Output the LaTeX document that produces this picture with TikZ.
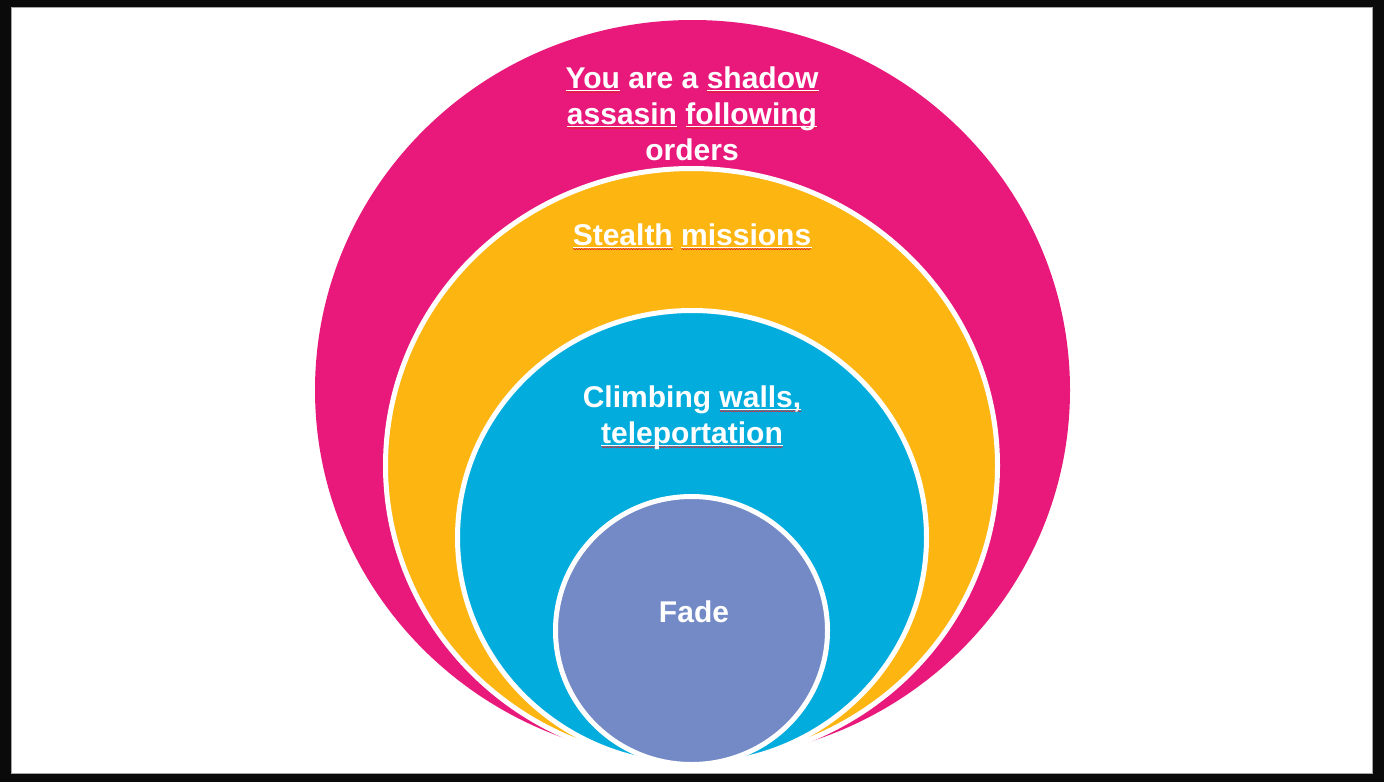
\documentclass[tikz,border=0pt]{standalone}
\usepackage{fontspec}
\setmainfont{Liberation Sans}
\usetikzlibrary{decorations.pathmorphing}

\definecolor{framebg}{HTML}{0A0A0A}
\definecolor{ringpink}{HTML}{E8197B}
\definecolor{ringgold}{HTML}{FDB512}
\definecolor{ringblue}{HTML}{02ACDC}
\definecolor{ringviolet}{HTML}{748AC6}
\definecolor{spellred}{HTML}{E0202A}

% spell-check mark under a word: a light rule with a red wave below it
\newcommand\spellmark[1]{%
  \setbox0\hbox{#1}%
  \rlap{\raisebox{-5pt}{\tikz{%
      \fill[white] (0pt,2.6pt) rectangle (\wd0,3.6pt);
      \draw[spellred,line width=0.6pt,decorate,
        decoration={snake,amplitude=0.6pt,segment length=2.6pt}] (0pt,1pt) -- (\wd0,1pt);}}}%
  \box0\relax}

\tikzset{
  ring/.style={draw=white,line width=5pt},
  lbl/.style={text=white,font=\bfseries\fontsize{30}{36}\selectfont,
    anchor=base,inner sep=0pt},
}

\begin{document}
\begin{tikzpicture}[x=1pt,y=-1pt]
  \useasboundingbox (0,0) rectangle (1384,782);
  % slide frame
  \fill[framebg] (0,0) rectangle (1384,782);
  \fill[white,draw=gray!70,line width=1pt] (11,7) rectangle (1372,773);

  % nested rings, each reaching a little lower than the one around it
  \fill[ringpink] (692.5,390) ellipse [x radius=377.5, y radius=370];
  \path[ring,fill=ringgold] (691.5,465.5) ellipse [x radius=306, y radius=297];
  \path[ring,fill=ringblue] (692,537.5) ellipse [x radius=234.5, y radius=227];
  \path[ring,fill=ringviolet] (691.5,630.5) ellipse [x radius=136, y radius=134];

  % labels
  \node[lbl] (l1a) at (692,88) {\spellmark{You} are a \spellmark{shadow}};
  \node[lbl] (l1b) at (692,124) {\spellmark{assasin} \spellmark{following}};
  \node[lbl] (l1c) at (692,160) {orders};
  \node[lbl] (l2) at (692,245) {\spellmark{Stealth} \spellmark{missions}};
  \node[lbl] (l3a) at (692,407) {Climbing \spellmark{walls,}};
  \node[lbl] (l3b) at (692,443) {\spellmark{teleportation}};
  \node[lbl] (l4) at (694,622) {Fade};
\end{tikzpicture}
\end{document}
